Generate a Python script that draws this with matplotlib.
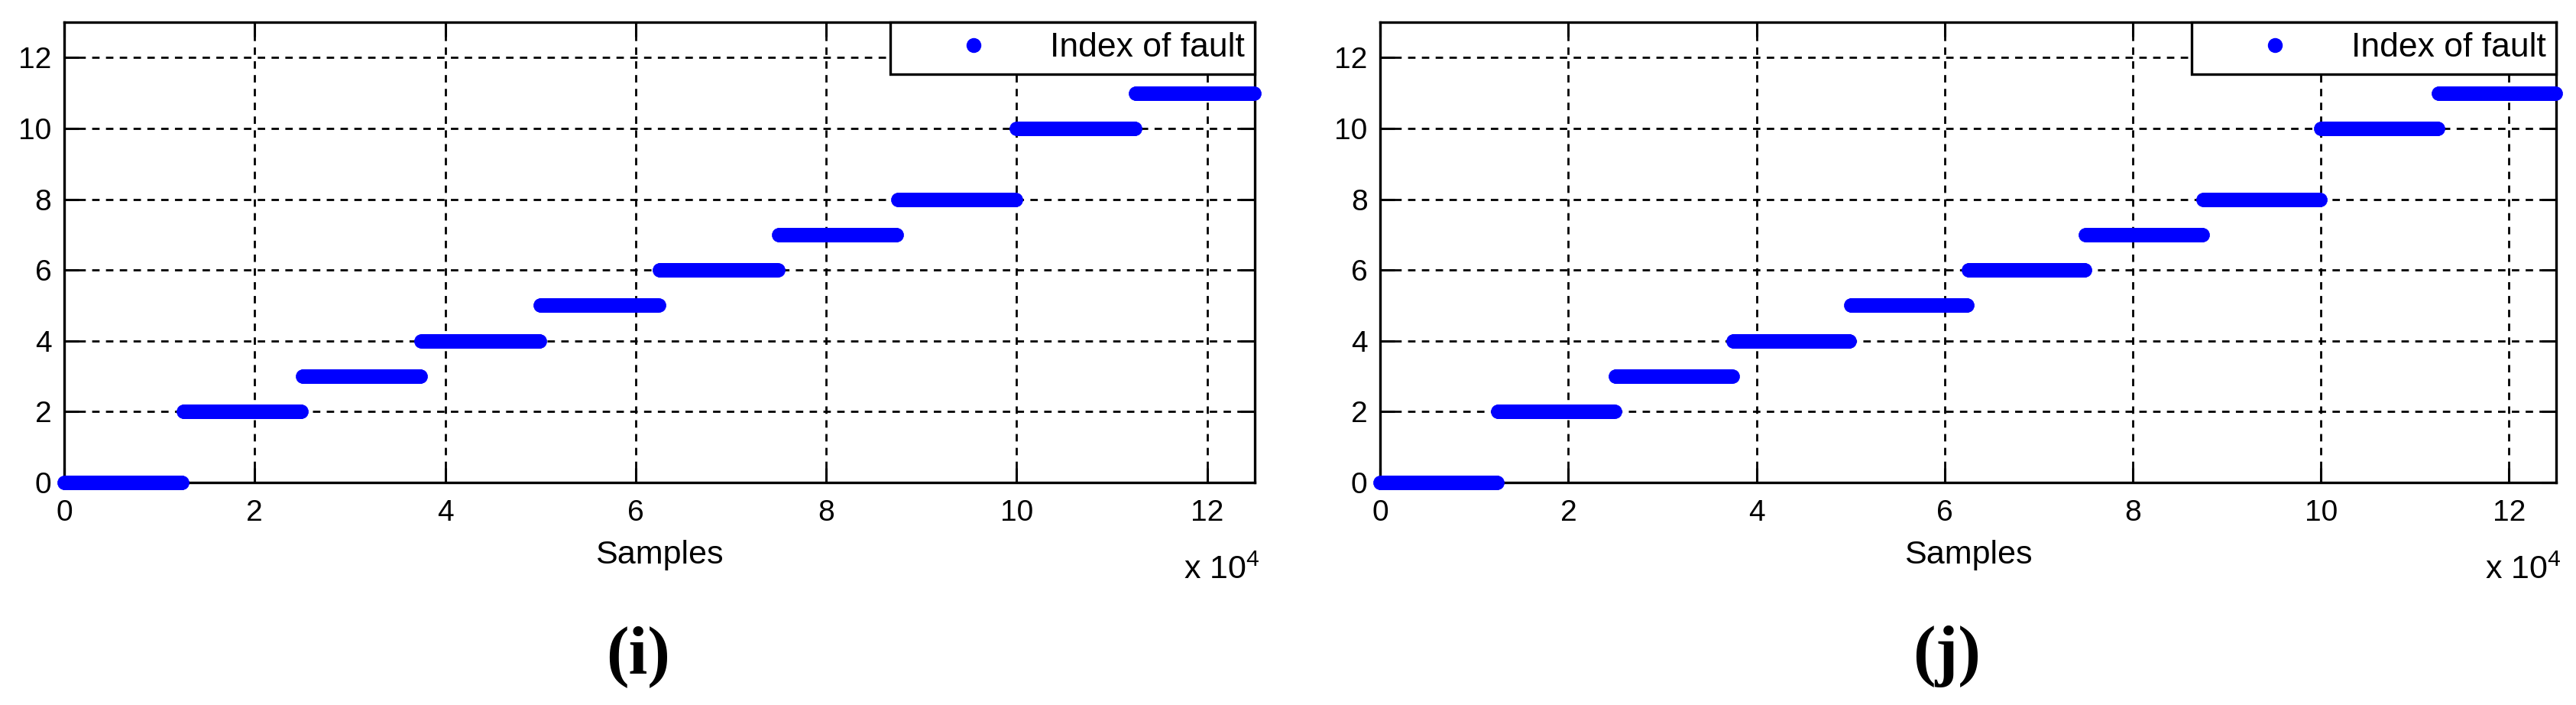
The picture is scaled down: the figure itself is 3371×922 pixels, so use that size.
import numpy as np
import matplotlib
matplotlib.use("Agg")
import matplotlib.pyplot as plt
from matplotlib.lines import Line2D

# ─── data ───────────────────────────────────────────────
fault_idx_i = [0, 2, 3, 4, 5, 6, 7, 8, 10, 11]
fault_idx_j = [0, 2, 3, 4, 5, 6, 7, 8, 10, 11]
samples_per_fault = 12500
plot_step = 100          # plot every 100th sample
panel_labels = ["(i)", "(j)"]
x_ticks = [0, 2, 4, 6, 8, 10, 12]
y_ticks = [0, 2, 4, 6, 8, 10, 12]

plt.rcParams['font.family'] = ['Liberation Sans', 'DejaVu Sans']
plt.rcParams['mathtext.fontset'] = 'custom'
plt.rcParams['mathtext.rm'] = 'Liberation Sans'

TICK_FS = 28
LABEL_FS = 31
LEG_FS = 32
BLUE = '#0000ff'
MS = 26

fig = plt.figure(figsize=(33.71, 9.22), dpi=100)

axes_pos = [
    [0.0249, 0.3156, 0.4622, 0.6530],
    [0.5358, 0.3156, 0.4565, 0.6530],
]


def draw_panel(ax, fault_idx, label):
    n_total = samples_per_fault * len(fault_idx)
    samples = np.arange(0, n_total, plot_step)
    index = np.repeat(fault_idx, samples_per_fault // plot_step)
    ax.plot(samples, index, '.', color=BLUE, markersize=MS,
            markeredgewidth=0.5, clip_on=False, zorder=3)

    ax.set_xlim(0, n_total)
    ax.set_ylim(0, 13)
    ax.set_xticks([t * 1e4 for t in x_ticks])
    ax.set_xticklabels([str(t) for t in x_ticks])
    ax.set_yticks(y_ticks)
    ax.tick_params(direction='in', length=14, width=2.2, labelsize=TICK_FS,
                   top=True, right=True, colors='black')
    ax.tick_params(axis='x', pad=16)
    ax.tick_params(axis='y', pad=12)
    for sp in ax.spines.values():
        sp.set_linewidth(2.4)
    ax.grid(True, color='black', linestyle=(0, (3.5, 3)), linewidth=2.0)
    ax.set_axisbelow(True)

    ax.set_xlabel("Samples", fontsize=LABEL_FS, va='center')
    ax.xaxis.set_label_coords(0.5, -0.157)
    ax.text(1.004, -0.21, r"x 10$^{4}$", transform=ax.transAxes,
            ha='right', va='baseline', fontsize=TICK_FS + 3)

    handle = Line2D([], [], linestyle='none', marker='.', color=BLUE,
                    markersize=MS)
    leg = ax.legend([handle], ["Index of fault"], loc='upper right',
                    fontsize=LEG_FS, frameon=True, fancybox=False,
                    borderaxespad=0, handlelength=4.3, handletextpad=0.1,
                    borderpad=0.3, framealpha=1)
    leg.get_frame().set_edgecolor('black')
    leg.get_frame().set_linewidth(2.4)
    leg.set_zorder(5)

    ax.text(0.482, -0.378, label, transform=ax.transAxes, ha='center', va='center',
            fontsize=64, fontfamily='Liberation Serif', fontweight='bold')


for pos, data, lab in zip(axes_pos, [fault_idx_i, fault_idx_j], panel_labels):
    ax = fig.add_axes(pos)
    draw_panel(ax, data, lab)

fig.savefig("out.png", dpi=100, facecolor='white')
